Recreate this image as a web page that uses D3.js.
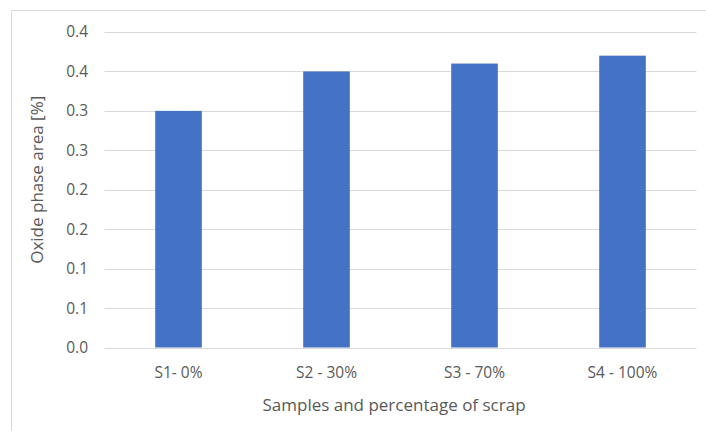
<!DOCTYPE html>
<html>
<head>
<meta charset="utf-8">
<script src="https://cdn.jsdelivr.net/npm/d3@7"></script>
<style>
  html, body { margin: 0; padding: 0; background: #fff; }
  svg { display: block; }
  text { font-family: "Open Sans", "Noto Sans", sans-serif; fill: #595959; }
</style>
</head>
<body>
<svg id="chart" width="706" height="431"></svg>
<script>
// Oxide phase area per sample
const categories = ["S1- 0%", "S2 - 30%", "S3 - 70%", "S4 - 100%"];
const oxideArea = [0.30, 0.35, 0.36, 0.37];
const yTicks = [0, 0.05, 0.10, 0.15, 0.20, 0.25, 0.30, 0.35, 0.40];

const svg = d3.select("#chart");
const W = 706, H = 431;
const margin = { left: 104.5, right: 9.5, top: 32, bottom: 83.5 };

// outer chart frame
svg.append("rect")
  .attr("x", 11.5).attr("y", 10.5)
  .attr("width", W).attr("height", H)
  .attr("fill", "none").attr("stroke", "#d9d9d9").attr("stroke-width", 1);

const x = d3.scaleBand()
  .domain(categories)
  .range([margin.left, W - margin.right])
  .paddingInner(0.685).paddingOuter(0.3425);

const y = d3.scaleLinear()
  .domain([0, 0.4])
  .range([H - margin.bottom, margin.top]);

// horizontal gridlines
svg.append("g")
  .selectAll("line")
  .data(yTicks)
  .join("line")
  .attr("x1", margin.left).attr("x2", W - margin.right)
  .attr("y1", d => Math.round(y(d)) + 0.5).attr("y2", d => Math.round(y(d)) + 0.5)
  .attr("stroke", "#d9d9d9").attr("stroke-width", 1);

// y tick labels (one decimal)
const yAxis = d3.axisLeft(y).tickValues(yTicks).tickSize(0).tickPadding(0)
  .tickFormat(d => d3.format(".1f")(Math.round(d * 10 + 1e-9) / 10));
const gy = svg.append("g").attr("transform", "translate(88,0)").call(yAxis);
gy.select(".domain").remove();
gy.selectAll("text").attr("font-size", 15.5).style("fill", "#595959")
  .style("font-family", "'Open Sans', sans-serif");

// bars
svg.append("g")
  .selectAll("rect")
  .data(oxideArea)
  .join("rect")
  .attr("x", (d, i) => x(categories[i]))
  .attr("y", d => y(d))
  .attr("width", x.bandwidth())
  .attr("height", d => y(0) - y(d))
  .attr("fill", "#4472c4");

// x tick labels
const xAxis = d3.axisBottom(x).tickSize(0).tickPadding(0);
const gx = svg.append("g").attr("transform", `translate(0,${H - margin.bottom})`).call(xAxis);
gx.select(".domain").remove();
gx.selectAll("text").attr("dy", null).attr("y", 30)
  .attr("font-size", 15.5).style("fill", "#595959")
  .style("font-family", "'Open Sans', sans-serif");

// axis titles
svg.append("text")
  .attr("x", 394)
  .attr("y", 411)
  .attr("text-anchor", "middle")
  .attr("font-size", 17)
  .text("Samples and percentage of scrap");

svg.append("text")
  .attr("transform", `translate(43,${(margin.top + H - margin.bottom) / 2 - 10}) rotate(-90)`)
  .attr("text-anchor", "middle")
  .attr("font-size", 17)
  .text("Oxide phase area [%]");
</script>
</body>
</html>
